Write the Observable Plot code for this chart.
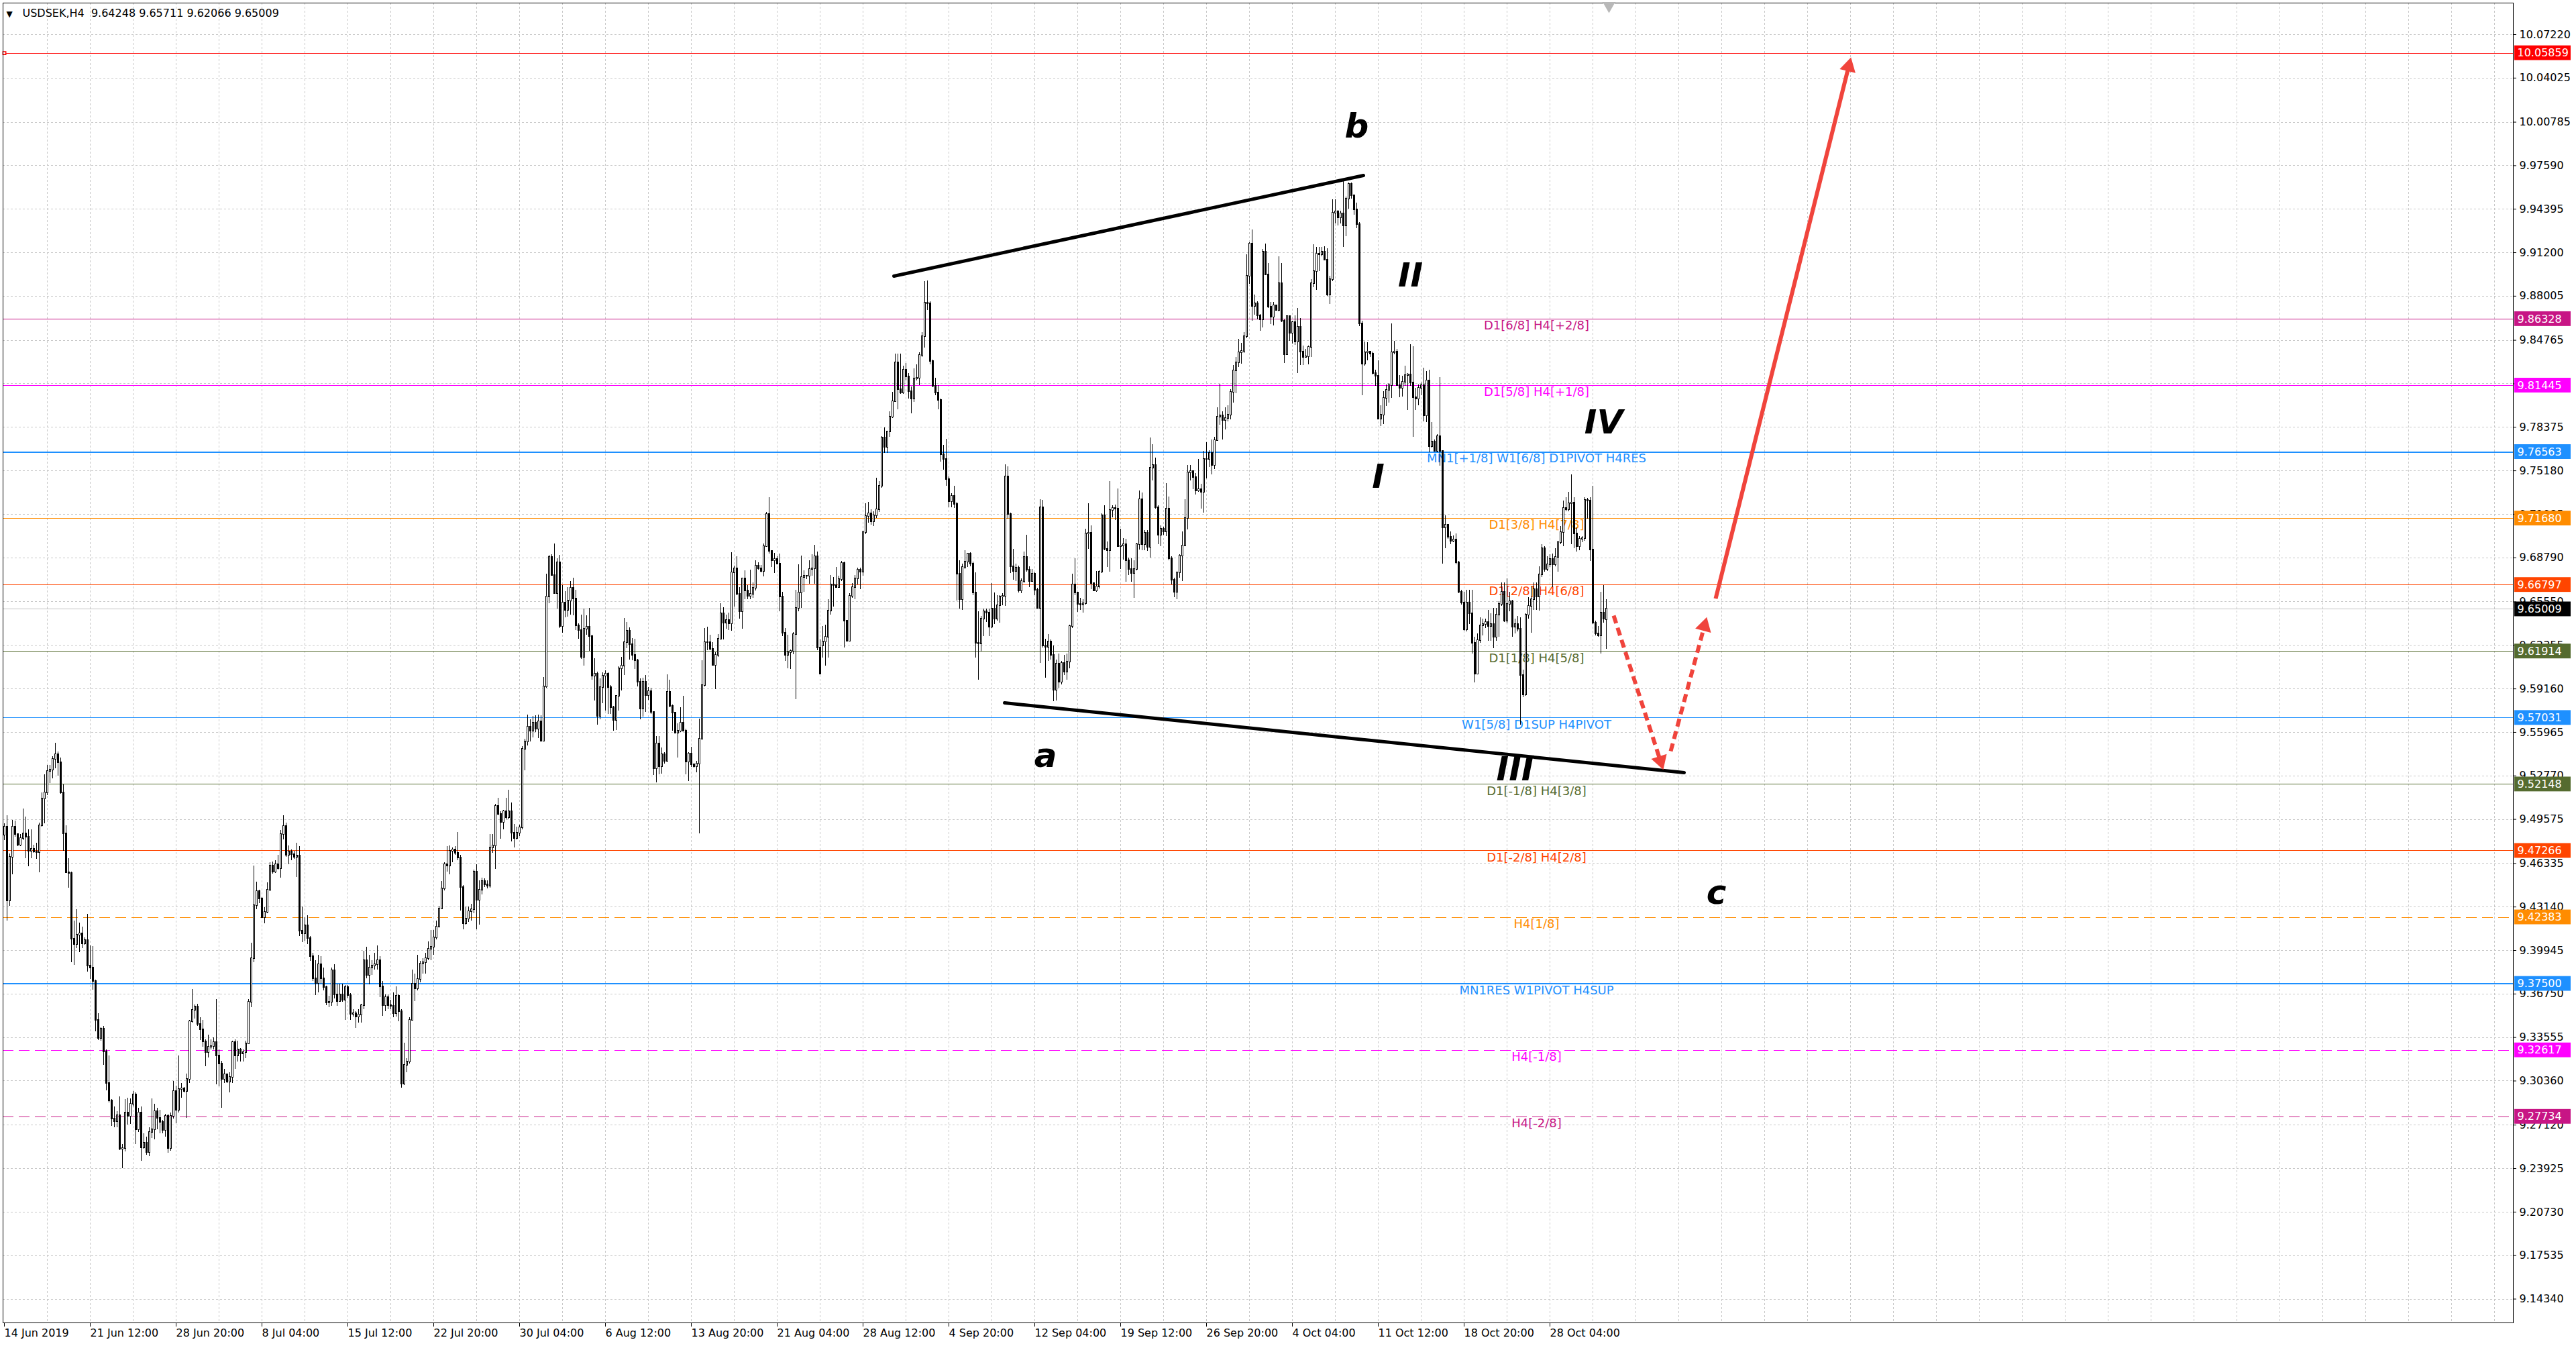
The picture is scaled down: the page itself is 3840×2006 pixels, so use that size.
<!DOCTYPE html>
<html>
<head>
<meta charset="utf-8">
<script src="https://cdn.jsdelivr.net/npm/d3@7"></script>
<script src="https://cdn.jsdelivr.net/npm/@observablehq/plot@0.6"></script>
<style>
html, body { margin: 0; padding: 0; background: #ffffff; overflow: hidden; }
#chart svg { display: block; }
</style>
</head>
<body>
<div id="chart"></div>
<script>
// ---------------- DATA ----------------
const symbolTitle = "USDSEK,H4  9.64248 9.65711 9.62066 9.65009";

// H4 bars, index 0 = 14 Jun 2019
const open = [
9.4843,9.4902,9.4359,9.4678,9.4902,9.4847,9.4766,9.4816,9.4851,9.4825,
9.4726,9.4741,9.4719,9.4715,9.4913,9.5107,9.5155,9.5309,9.5318,9.5397,
9.5434,9.5375,9.5151,9.4851,9.4565,9.4561,9.4077,9.4037,9.4110,9.4117,
9.4044,9.4066,9.3879,9.3868,9.3769,9.3483,9.3351,9.3417,9.3252,9.3021,
9.2889,9.2757,9.2739,9.2783,9.2537,9.2541,9.2801,9.2779,9.2867,9.2933,
9.2680,9.2801,9.2548,9.2581,9.2511,9.2658,9.2680,9.2812,9.2761,9.2735,
9.2673,9.2775,9.2541,9.2775,9.2959,9.2823,9.2973,9.2980,9.2959,9.3047,
9.3472,9.3555,9.3582,9.3450,9.3413,9.3322,9.3245,9.3285,9.3292,9.3320,
9.3223,9.3162,9.3047,9.3083,9.3030,9.3061,9.3318,9.3223,9.3263,9.3237,
9.3245,9.3311,9.3615,9.3934,9.4323,9.4429,9.4374,9.4238,9.4275,9.4440,
9.4616,9.4570,9.4626,9.4598,9.4847,9.4908,9.4695,9.4717,9.4700,9.4681,
9.4690,9.4136,9.4120,9.4175,9.4081,9.3948,9.3788,9.3754,9.3893,9.3788,
9.3721,9.3611,9.3616,9.3849,9.3671,9.3622,9.3671,9.3630,9.3721,9.3666,
9.3528,9.3533,9.3506,9.3519,9.3589,9.3920,9.3810,9.3865,9.3879,9.3893,
9.3920,9.3727,9.3589,9.3649,9.3589,9.3583,9.3533,9.3658,9.3547,9.3013,
9.3151,9.3174,9.3483,9.3749,9.3713,9.3782,9.3898,9.3907,9.3934,9.4003,
9.4017,9.4086,9.4169,9.4302,9.4446,9.4626,9.4617,9.4723,9.4736,9.4709,
9.4673,9.4460,9.4192,9.4225,9.4280,9.4294,9.4570,9.4363,9.4440,9.4501,
9.4479,9.4468,9.4750,9.4764,9.5054,9.4994,9.4938,9.5013,9.4971,9.5013,
9.4855,9.4819,9.4855,9.4894,9.5475,9.5525,9.5635,9.5608,9.5663,9.5622,
9.5677,9.5534,9.5930,9.6594,9.6881,9.6752,9.6617,9.6845,9.6375,9.6546,
9.6494,9.6564,9.6657,9.6576,9.6379,9.6347,9.6147,9.6353,9.6368,9.6300,
9.6009,9.6027,9.5714,9.5925,9.6009,9.6027,9.5925,9.5781,9.5684,9.5860,
9.6066,9.6083,9.6256,9.6340,9.6240,9.6164,9.6124,9.5965,9.5767,9.5965,
9.5869,9.5895,9.5742,9.5332,9.5513,9.5344,9.5432,9.5385,9.5890,9.5789,
9.5737,9.5591,9.5608,9.5666,9.5608,9.5379,9.5437,9.5358,9.5344,9.5367,
9.5548,9.5939,9.6259,9.6256,9.6207,9.6089,9.6164,9.6282,9.6467,9.6400,
9.6418,9.6397,9.6770,9.6798,9.6611,9.6481,9.6727,9.6634,9.6599,9.6611,
9.6657,9.6819,9.6801,9.6780,9.6963,9.7197,9.6928,9.6858,9.6868,9.6833,
9.6590,9.6326,9.6164,9.6182,9.6194,9.6317,9.6506,9.6622,9.6735,9.6745,
9.6743,9.6795,9.6799,9.6890,9.6219,9.6230,9.6263,9.6296,9.6487,9.6681,
9.6677,9.6663,9.6721,9.6839,9.6413,9.6267,9.6597,9.6663,9.6725,9.6791,
9.6773,9.7066,9.7183,9.7205,9.7143,9.7187,9.7231,9.7403,9.7759,9.7693,
9.7803,9.7913,9.8027,9.8313,9.8115,9.8090,9.8258,9.8210,9.8100,9.8045,
9.8195,9.8199,9.8368,9.8503,9.8753,9.8745,9.8320,9.8137,9.8089,9.8034,
9.7638,9.7601,9.7455,9.7293,9.7330,9.7271,9.6758,9.6571,9.6809,9.6846,
9.6905,9.6831,9.6619,9.6252,9.6245,9.6428,9.6483,9.6472,9.6369,9.6505,
9.6428,9.6527,9.6593,9.6597,9.7473,9.7198,9.6813,9.6780,9.6802,9.6637,
9.6703,9.6883,9.6787,9.6703,9.6758,9.6641,9.6509,9.7249,9.6230,9.6223,
9.6263,9.6164,9.5907,9.6098,9.5966,9.6105,9.6039,9.6113,9.6373,9.6681,
9.6619,9.6536,9.6532,9.6541,9.7057,9.7061,9.6690,9.6638,9.6667,9.6774,
9.7188,9.6943,9.6932,9.7226,9.7242,9.7237,9.6961,9.6966,9.6977,9.6857,
9.6796,9.6762,9.6796,9.6977,9.7305,9.6977,9.7061,9.6955,9.7536,9.7559,
9.7249,9.7045,9.7090,9.7068,9.7237,9.6875,9.6717,9.6627,9.6767,9.6894,
9.6966,9.7170,9.7505,9.7514,9.7468,9.7373,9.7380,9.7362,9.7600,9.7604,
9.7649,9.7559,9.7740,9.7912,9.7921,9.7889,9.7905,9.7928,9.8093,9.8251,
9.8312,9.8387,9.8396,9.8505,9.8946,9.9184,9.8727,9.8747,9.8659,9.8629,
9.9127,9.8957,9.8720,9.8645,9.8731,9.8697,9.8894,9.8618,9.8369,9.8652,
9.8528,9.8607,9.8464,9.8573,9.8392,9.8351,9.8358,9.8426,9.8894,9.8980,
9.9111,9.9105,9.9127,9.9066,9.8810,9.8923,9.9410,9.9421,9.9376,9.9405,
9.9315,9.9514,9.9621,9.9541,9.9434,9.9327,9.8597,9.8303,9.8384,9.8392,
9.8378,9.8231,9.8213,9.7900,9.7926,9.8052,9.8111,9.8143,9.8384,9.8392,
9.8143,9.8124,9.8170,9.8218,9.8223,9.8165,9.8058,9.8044,9.8124,9.8143,
9.7924,9.8178,9.7697,9.7732,9.7662,9.7769,9.7662,9.7101,9.7117,9.7029,
9.7002,9.7010,9.6842,9.6628,9.6548,9.6348,9.6548,9.6468,9.6254,9.6027,
9.6273,9.6380,9.6388,9.6406,9.6374,9.6388,9.6294,9.6460,9.6540,9.6628,
9.6414,9.6540,9.6556,9.6369,9.6388,9.6353,9.6014,9.5872,9.6460,9.6521,
9.6574,9.6647,9.6593,9.6754,9.6949,9.6796,9.6829,9.6869,9.6829,9.6882,
9.6989,9.7064,9.7243,9.7235,9.7277,9.7283,9.7056,9.6962,9.7016,9.7021,
9.7304,9.7298,9.6935,9.6401,9.6321,9.6307,9.6476,9.64248
];
const high = [
9.4924,9.4986,9.4704,9.4953,9.4946,9.4851,9.4847,9.5034,9.4975,9.4880,
9.4884,9.4770,9.4781,9.4931,9.5155,9.5287,9.5353,9.5357,9.5419,9.5518,
9.5452,9.5408,9.5210,9.4913,9.4671,9.4572,9.4209,9.4297,9.4198,9.4165,
9.4088,9.4262,9.4029,9.4022,9.3780,9.3531,9.3428,9.3439,9.3263,9.3219,
9.2900,9.2845,9.2812,9.2918,9.2570,9.2900,9.2911,9.2907,9.2959,9.2951,
9.2834,9.2845,9.2647,9.2625,9.2691,9.2907,9.2867,9.2834,9.2823,9.2746,
9.2790,9.2790,9.2801,9.3032,9.2999,9.3219,9.3021,9.2990,9.3087,9.3483,
9.3710,9.3593,9.3600,9.3501,9.3483,9.3340,9.3373,9.3340,9.3355,9.3633,
9.3263,9.3179,9.3120,9.3087,9.3098,9.3329,9.3340,9.3329,9.3274,9.3263,
9.3329,9.3633,9.4051,9.4616,9.4495,9.4440,9.4385,9.4308,9.4491,9.4638,
9.4645,9.4653,9.4695,9.4875,9.4983,9.4930,9.4764,9.4736,9.4722,9.4783,
9.4756,9.4313,9.4238,9.4252,9.4100,9.3976,9.3920,9.3962,9.3948,9.3865,
9.3732,9.3658,9.3865,9.3893,9.3749,9.3749,9.3749,9.3740,9.3740,9.3677,
9.3561,9.3547,9.3561,9.3602,9.3990,9.4017,9.3962,9.3920,9.3976,9.4031,
9.3948,9.3768,9.3671,9.3671,9.3630,9.3685,9.3727,9.3671,9.3561,9.3312,
9.3201,9.3500,9.3851,9.3824,9.3962,9.3915,9.3934,9.3976,9.4059,9.4142,
9.4142,9.4211,9.4322,9.4501,9.4640,9.4756,9.4764,9.4750,9.4756,9.4861,
9.4695,9.4474,9.4313,9.4313,9.4335,9.4584,9.4626,9.4507,9.4529,9.4523,
9.4507,9.4847,9.4847,9.5068,9.5115,9.5013,9.5027,9.5115,9.5171,9.5077,
9.4922,9.4902,9.4916,9.5492,9.5547,9.5724,9.5691,9.5713,9.5718,9.5724,
9.5719,9.6000,9.6757,9.6898,9.6903,9.6981,9.6872,9.6898,9.6678,9.6629,
9.6661,9.6705,9.6731,9.6643,9.6397,9.6458,9.6502,9.6453,9.6506,9.6309,
9.6136,9.6040,9.5992,9.6036,9.6048,9.6036,9.5939,9.5790,9.5869,9.6080,
9.6150,9.6432,9.6405,9.6367,9.6288,9.6282,9.6133,9.5992,9.5995,9.6013,
9.5925,9.5921,9.5745,9.5569,9.5569,9.5481,9.5446,9.6018,9.5983,9.5798,
9.5745,9.5658,9.5781,9.5860,9.5622,9.5446,9.5490,9.5362,9.5385,9.5693,
9.6124,9.6361,9.6370,9.6309,9.6256,9.6185,9.6317,9.6541,9.6511,9.6458,
9.6476,9.6916,9.6819,9.6886,9.6661,9.6731,9.6784,9.6678,9.6787,9.6696,
9.6858,9.6845,9.6823,9.6981,9.7215,9.7321,9.6933,9.6911,9.6889,9.6907,
9.6625,9.6361,9.6309,9.6203,9.6330,9.6643,9.6828,9.6893,9.6784,9.6749,
9.6857,9.6901,9.6971,9.6923,9.6274,9.6373,9.6384,9.6571,9.6751,9.6736,
9.6807,9.6747,9.6853,9.6846,9.6421,9.6615,9.6692,9.6751,9.6802,9.6802,
9.7077,9.7275,9.7286,9.7231,9.7220,9.7462,9.7440,9.7770,9.7836,9.7807,
9.7953,9.8093,9.8375,9.8375,9.8375,9.8287,9.8309,9.8232,9.8133,9.8269,
9.8298,9.8386,9.8533,9.8907,9.8914,9.8760,9.8331,9.8199,9.8144,9.8045,
9.7704,9.7748,9.7473,9.7352,9.7403,9.7286,9.6857,9.6835,9.6934,9.6912,
9.6919,9.6846,9.6769,9.6483,9.6450,9.6505,9.6505,9.6505,9.6692,9.6619,
9.6604,9.6604,9.6615,9.7565,9.7550,9.7209,9.6941,9.6831,9.6817,9.6725,
9.6923,9.7044,9.6813,9.6795,9.6769,9.6655,9.7308,9.7301,9.6281,9.6318,
9.6274,9.6230,9.6127,9.6171,9.6120,9.6164,9.6171,9.6384,9.6758,9.6875,
9.6627,9.6581,9.6570,9.7091,9.7278,9.7113,9.6695,9.6780,9.6785,9.7204,
9.7260,9.6996,9.7441,9.7260,9.7265,9.7385,9.7091,9.7023,9.7016,9.6876,
9.6871,9.6857,9.6984,9.7369,9.7355,9.7079,9.7079,9.7758,9.7713,9.7611,
9.7260,9.7113,9.7102,9.7423,9.7328,9.6887,9.6728,9.6774,9.6903,9.7068,
9.7305,9.7559,9.7559,9.7520,9.7498,9.7600,9.7419,9.7663,9.7724,9.7668,
9.7747,9.7763,9.7980,9.8154,9.7950,9.7980,9.7996,9.8116,9.8290,9.8351,
9.8482,9.8455,9.8532,9.9105,9.9195,9.9286,9.8810,9.8760,9.8668,9.9143,
9.9184,9.9043,9.8754,9.8754,9.8736,9.9093,9.9043,9.8629,9.8659,9.8657,
9.8618,9.8659,9.8713,9.8636,9.8437,9.8410,9.8437,9.8923,9.9179,9.9161,
9.9161,9.9161,9.9166,9.9150,9.8946,9.9512,9.9512,9.9431,9.9428,9.9648,
9.9527,9.9634,9.9634,9.9541,9.9487,9.9340,9.8619,9.8464,9.8458,9.8392,
9.8392,9.8258,9.8325,9.7995,9.8098,9.8151,9.8159,9.8597,9.8472,9.8410,
9.8218,9.8213,9.8285,9.8231,9.8445,9.8432,9.8124,9.8151,9.8165,9.8271,
9.8250,9.8258,9.7871,9.7743,9.7785,9.8205,9.7662,9.7189,9.7122,9.7069,
9.7042,9.7056,9.6855,9.6641,9.6628,9.6641,9.6641,9.6641,9.6294,9.6321,
9.6441,9.6428,9.6428,9.6494,9.6468,9.6508,9.6508,9.6556,9.6695,9.6695,
9.6727,9.6628,9.6567,9.6428,9.6449,9.6441,9.6054,9.6468,9.6588,9.6668,
9.6695,9.6695,9.6815,9.6976,9.6962,9.6887,9.6903,9.6909,9.6949,9.7002,
9.7109,9.7296,9.7323,9.7363,9.7491,9.7323,9.7101,9.7037,9.7037,9.7323,
9.7315,9.7323,9.7403,9.6414,9.6374,9.6628,9.6674,9.65711
];
const low = [
9.4803,9.4209,9.4319,9.4550,9.4825,9.4759,9.4759,9.4803,9.4671,9.4609,
9.4671,9.4711,9.4664,9.4565,9.4902,9.4924,9.5133,9.5221,9.5254,9.5331,
9.5276,9.5144,9.4726,9.4561,9.4455,9.3905,9.3888,9.4011,9.3978,9.4011,
9.4033,9.3835,9.3785,9.3703,9.3399,9.3333,9.3329,9.3153,9.2966,9.2878,
9.2702,9.2695,9.2691,9.2526,9.2394,9.2515,9.2713,9.2717,9.2845,9.2570,
9.2658,9.2449,9.2537,9.2493,9.2482,9.2614,9.2607,9.2680,9.2647,9.2647,
9.2625,9.2504,9.2519,9.2757,9.2724,9.2801,9.2911,9.2951,9.2761,9.3017,
9.3461,9.3494,9.3439,9.3333,9.3285,9.3142,9.3208,9.3263,9.3263,9.3010,
9.2995,9.2834,9.3021,9.3021,9.2951,9.3021,9.3120,9.3175,9.3175,9.3175,
9.3201,9.3303,9.3575,9.3905,9.4297,9.4341,9.4231,9.4191,9.4264,9.4429,
9.4557,9.4562,9.4584,9.4529,9.4806,9.4681,9.4626,9.4653,9.4667,9.4534,
9.4100,9.4053,9.4064,9.4037,9.3915,9.3768,9.3666,9.3685,9.3749,9.3699,
9.3589,9.3575,9.3583,9.3638,9.3583,9.3616,9.3616,9.3483,9.3644,9.3483,
9.3506,9.3423,9.3464,9.3464,9.3561,9.3788,9.3741,9.3810,9.3851,9.3851,
9.3649,9.3511,9.3547,9.3561,9.3561,9.3500,9.3506,9.3472,9.2985,9.3002,
9.3096,9.3160,9.3478,9.3622,9.3699,9.3760,9.3824,9.3824,9.3920,9.3920,
9.3962,9.4073,9.4164,9.4294,9.4432,9.4570,9.4551,9.4640,9.4695,9.4653,
9.4286,9.4147,9.4183,9.4203,9.4211,9.4266,9.4147,9.4183,9.4404,9.4460,
9.4446,9.4451,9.4709,9.4590,9.4985,9.4811,9.4883,9.4958,9.4958,9.4792,
9.4750,9.4806,9.4833,9.4883,9.5317,9.5497,9.5525,9.5558,9.5594,9.5552,
9.5525,9.5525,9.5921,9.6541,9.6749,9.6611,9.6502,9.6361,9.6326,9.6441,
9.6446,9.6458,9.6453,9.6344,9.6282,9.6133,9.6083,9.6309,9.6194,9.5983,
9.5830,9.5649,9.5689,9.5807,9.5754,9.5728,9.5731,9.5608,9.5613,9.5754,
9.5904,9.6013,9.6212,9.6130,9.6124,9.6062,9.5930,9.5689,9.5710,9.5745,
9.5833,9.5731,9.5279,9.5226,9.5288,9.5291,9.5367,9.5379,9.5781,9.5605,
9.5587,9.5411,9.5596,9.5605,9.5288,9.5235,9.5341,9.5337,9.5302,9.4851,
9.5543,9.5930,9.6199,9.6199,9.6083,9.5913,9.6150,9.6277,9.6277,9.6353,
9.6344,9.6340,9.6520,9.6604,9.6428,9.6353,9.6573,9.6573,9.6573,9.6581,
9.6634,9.6787,9.6770,9.6740,9.6960,9.6907,9.6810,9.6763,9.6828,9.6485,
9.6300,9.6119,9.6066,9.6062,9.6168,9.5837,9.6485,9.6506,9.6625,9.6722,
9.6685,9.6747,9.6685,9.6197,9.6021,9.6142,9.6083,9.6142,9.6461,9.6516,
9.6655,9.6655,9.6703,9.6215,9.6263,9.6263,9.6582,9.6571,9.6681,9.6648,
9.6743,9.7051,9.7132,9.7121,9.7110,9.7170,9.7213,9.7389,9.7649,9.7645,
9.7763,9.7902,9.8020,9.7968,9.8078,9.8080,9.8177,9.8045,9.7935,9.8019,
9.8177,9.8144,9.8353,9.8419,9.8694,9.8298,9.8129,9.8071,9.7968,9.7583,
9.7521,9.7407,9.7249,9.7249,9.7242,9.6560,9.6501,9.6494,9.6795,9.6809,
9.6813,9.6604,9.6142,9.5981,9.6186,9.6303,9.6406,9.6303,9.6362,9.6391,
9.6413,9.6399,9.6527,9.6523,9.7165,9.6765,9.6714,9.6703,9.6619,9.6615,
9.6692,9.6773,9.6659,9.6699,9.6604,9.6505,9.6105,9.6219,9.5995,9.6120,
9.6131,9.5823,9.5827,9.5922,9.5944,9.6017,9.5981,9.6065,9.6362,9.6604,
9.6479,9.6495,9.6473,9.6532,9.6943,9.6645,9.6631,9.6627,9.6649,9.6762,
9.6932,9.6807,9.6774,9.7174,9.7152,9.6955,9.6796,9.6864,9.6699,9.6751,
9.6699,9.6581,9.6785,9.6939,9.6932,9.6932,9.6925,9.6880,9.7446,9.7238,
9.6977,9.6961,9.7045,9.7034,9.6857,9.6683,9.6586,9.6570,9.6728,9.6706,
9.6961,9.7084,9.7446,9.7378,9.7339,9.7362,9.7238,9.7210,9.7459,9.7543,
9.7491,9.7527,9.7735,9.7853,9.7747,9.7821,9.7876,9.7894,9.8018,9.8086,
9.8279,9.8301,9.8380,9.8487,9.8890,9.8618,9.8663,9.8629,9.8546,9.8568,
9.8953,9.8713,9.8591,9.8584,9.8690,9.8686,9.8607,9.8306,9.8364,9.8471,
9.8448,9.8441,9.8233,9.8290,9.8290,9.8346,9.8297,9.8351,9.8862,9.8844,
9.8980,9.9093,9.9059,9.8799,9.8742,9.8908,9.9331,9.9315,9.9331,9.9161,
9.9239,9.9442,9.9514,9.9394,9.9300,9.8579,9.8071,9.8285,9.8325,9.8352,
9.8223,9.8138,9.7897,9.7844,9.7857,9.7991,9.8018,9.8052,9.8373,9.8138,
9.8058,9.8063,9.8138,9.7964,9.8138,9.7764,9.7964,9.7996,9.8071,9.7876,
9.7871,9.7651,9.7684,9.7657,9.7651,9.7555,9.6834,9.6949,9.7016,9.6975,
9.6989,9.6829,9.6615,9.6535,9.6342,9.6334,9.6388,9.6174,9.5960,9.6022,
9.6254,9.6307,9.6361,9.6267,9.6267,9.6214,9.6267,9.6294,9.6521,9.6406,
9.6396,9.6481,9.6294,9.6321,9.6334,9.5650,9.5853,9.5860,9.6428,9.6326,
9.6494,9.6494,9.6487,9.6735,9.6775,9.6780,9.6807,9.6663,9.6815,9.6775,
9.6975,9.6962,9.7216,9.7216,9.6975,9.6949,9.6922,9.6930,9.6989,9.7002,
9.7163,9.6855,9.6388,9.6307,9.6294,9.6174,9.6401,9.62066
];
const close = [
9.4902,9.4359,9.4678,9.4902,9.4847,9.4766,9.4816,9.4851,9.4825,9.4726,
9.4741,9.4719,9.4715,9.4913,9.5107,9.5155,9.5309,9.5318,9.5397,9.5434,
9.5375,9.5151,9.4851,9.4565,9.4561,9.4077,9.4037,9.4110,9.4117,9.4044,
9.4066,9.3879,9.3868,9.3769,9.3483,9.3351,9.3417,9.3252,9.3021,9.2889,
9.2757,9.2739,9.2783,9.2537,9.2541,9.2801,9.2779,9.2867,9.2933,9.2680,
9.2801,9.2548,9.2581,9.2511,9.2658,9.2680,9.2812,9.2761,9.2735,9.2673,
9.2775,9.2541,9.2775,9.2959,9.2823,9.2973,9.2980,9.2959,9.3047,9.3472,
9.3555,9.3582,9.3450,9.3413,9.3322,9.3245,9.3285,9.3292,9.3320,9.3223,
9.3162,9.3047,9.3083,9.3030,9.3061,9.3318,9.3223,9.3263,9.3237,9.3245,
9.3311,9.3615,9.3934,9.4323,9.4429,9.4374,9.4238,9.4275,9.4440,9.4616,
9.4570,9.4626,9.4598,9.4847,9.4908,9.4695,9.4717,9.4700,9.4681,9.4690,
9.4136,9.4120,9.4175,9.4081,9.3948,9.3788,9.3754,9.3893,9.3788,9.3721,
9.3611,9.3616,9.3849,9.3671,9.3622,9.3671,9.3630,9.3721,9.3666,9.3528,
9.3533,9.3506,9.3519,9.3589,9.3920,9.3810,9.3865,9.3879,9.3893,9.3920,
9.3727,9.3589,9.3649,9.3589,9.3583,9.3533,9.3658,9.3547,9.3013,9.3151,
9.3174,9.3483,9.3749,9.3713,9.3782,9.3898,9.3907,9.3934,9.4003,9.4017,
9.4086,9.4169,9.4302,9.4446,9.4626,9.4617,9.4723,9.4736,9.4709,9.4673,
9.4460,9.4192,9.4225,9.4280,9.4294,9.4570,9.4363,9.4440,9.4501,9.4479,
9.4468,9.4750,9.4764,9.5054,9.4994,9.4938,9.5013,9.4971,9.5013,9.4855,
9.4819,9.4855,9.4894,9.5475,9.5525,9.5635,9.5608,9.5663,9.5622,9.5677,
9.5534,9.5930,9.6594,9.6881,9.6752,9.6617,9.6845,9.6375,9.6546,9.6494,
9.6564,9.6657,9.6576,9.6379,9.6347,9.6147,9.6353,9.6368,9.6300,9.6009,
9.6027,9.5714,9.5925,9.6009,9.6027,9.5925,9.5781,9.5684,9.5860,9.6066,
9.6083,9.6256,9.6340,9.6240,9.6164,9.6124,9.5965,9.5767,9.5965,9.5869,
9.5895,9.5742,9.5332,9.5513,9.5344,9.5432,9.5385,9.5890,9.5789,9.5737,
9.5591,9.5608,9.5666,9.5608,9.5379,9.5437,9.5358,9.5344,9.5367,9.5548,
9.5939,9.6259,9.6256,9.6207,9.6089,9.6164,9.6282,9.6467,9.6400,9.6418,
9.6397,9.6770,9.6798,9.6611,9.6481,9.6727,9.6634,9.6599,9.6611,9.6657,
9.6819,9.6801,9.6780,9.6963,9.7197,9.6928,9.6858,9.6868,9.6833,9.6590,
9.6326,9.6164,9.6182,9.6194,9.6317,9.6506,9.6622,9.6735,9.6745,9.6743,
9.6795,9.6799,9.6890,9.6219,9.6025,9.6263,9.6296,9.6487,9.6681,9.6677,
9.6663,9.6721,9.6839,9.6413,9.6267,9.6597,9.6663,9.6725,9.6791,9.6773,
9.7066,9.7183,9.7205,9.7143,9.7187,9.7231,9.7403,9.7759,9.7693,9.7803,
9.7913,9.8027,9.8313,9.8115,9.8090,9.8258,9.8210,9.8100,9.8045,9.8195,
9.8199,9.8368,9.8503,9.8753,9.8745,9.8320,9.8137,9.8089,9.8034,9.7638,
9.7601,9.7455,9.7293,9.7330,9.7271,9.6758,9.6571,9.6809,9.6846,9.6905,
9.6831,9.6619,9.6252,9.6245,9.6428,9.6483,9.6472,9.6369,9.6505,9.6428,
9.6527,9.6593,9.6597,9.7473,9.7198,9.6813,9.6780,9.6802,9.6637,9.6703,
9.6883,9.6787,9.6703,9.6758,9.6641,9.6509,9.7249,9.6230,9.6223,9.6263,
9.6164,9.5907,9.6098,9.5966,9.6105,9.6039,9.6113,9.6373,9.6681,9.6619,
9.6536,9.6532,9.6541,9.7057,9.7061,9.6690,9.6638,9.6667,9.6774,9.7188,
9.6943,9.6932,9.7226,9.7242,9.7237,9.6961,9.6966,9.6977,9.6857,9.6796,
9.6762,9.6796,9.6977,9.7305,9.6977,9.7061,9.6955,9.7536,9.7559,9.7249,
9.7045,9.7090,9.7068,9.7237,9.6875,9.6717,9.6627,9.6767,9.6894,9.6966,
9.7170,9.7505,9.7514,9.7468,9.7373,9.7380,9.7362,9.7600,9.7604,9.7649,
9.7559,9.7740,9.7912,9.7921,9.7889,9.7905,9.7928,9.8093,9.8251,9.8312,
9.8387,9.8396,9.8505,9.8946,9.9184,9.8727,9.8747,9.8659,9.8629,9.9127,
9.8957,9.8720,9.8645,9.8731,9.8697,9.8894,9.8618,9.8369,9.8652,9.8528,
9.8607,9.8464,9.8573,9.8392,9.8351,9.8358,9.8426,9.8894,9.8980,9.9111,
9.9105,9.9127,9.9066,9.8810,9.8923,9.9410,9.9421,9.9376,9.9405,9.9315,
9.9514,9.9621,9.9541,9.9434,9.9327,9.8597,9.8303,9.8384,9.8392,9.8378,
9.8231,9.8213,9.7900,9.7926,9.8052,9.8111,9.8143,9.8384,9.8392,9.8143,
9.8124,9.8170,9.8218,9.8223,9.8165,9.8058,9.8044,9.8124,9.8143,9.7924,
9.8178,9.7697,9.7732,9.7662,9.7769,9.7662,9.7101,9.7117,9.7029,9.7002,
9.7010,9.6842,9.6628,9.6548,9.6348,9.6548,9.6468,9.6254,9.6027,9.6273,
9.6380,9.6388,9.6406,9.6374,9.6388,9.6294,9.6460,9.6540,9.6628,9.6414,
9.6540,9.6556,9.6369,9.6388,9.6353,9.6014,9.5872,9.6460,9.6521,9.6574,
9.6647,9.6593,9.6754,9.6949,9.6796,9.6829,9.6869,9.6829,9.6882,9.6989,
9.7064,9.7243,9.7235,9.7277,9.7283,9.7056,9.6962,9.7016,9.7021,9.7304,
9.7298,9.6935,9.6401,9.6321,9.6307,9.6476,9.6428,9.65009
];

// right price scale tick values
const priceTicks = [10.07220,10.04025,10.00785,9.97590,9.94395,9.91200,9.88005,9.84765,9.81570,9.78375,
  9.75180,9.71985,9.68790,9.65550,9.62355,9.59160,9.55965,9.52770,9.49575,9.46335,9.43140,9.39945,
  9.36750,9.33555,9.30360,9.27120,9.23925,9.20730,9.17535,9.14340];

// time axis labels and the bar index they sit on
const dateLabels = ["14 Jun 2019","21 Jun 12:00","28 Jun 20:00","8 Jul 04:00","15 Jul 12:00","22 Jul 20:00",
  "30 Jul 04:00","6 Aug 12:00","13 Aug 20:00","21 Aug 04:00","28 Aug 12:00","4 Sep 20:00","12 Sep 04:00",
  "19 Sep 12:00","26 Sep 20:00","4 Oct 04:00","11 Oct 12:00","18 Oct 20:00","28 Oct 04:00"];
const dateLabelBars = [0,32,64,96,128,160,192,224,256,288,320,352,384,416,448,480,512,544,576];

// Murrey-math / pivot levels
const levelPrices = [10.05859, 9.86328, 9.81445, 9.76563, 9.71680, 9.66797, 9.61914, 9.57031,
  9.52148, 9.47266, 9.42383, 9.37500, 9.32617, 9.27734];
const levelNames = ["", "D1[6/8] H4[+2/8]", "D1[5/8] H4[+1/8]", "MN1[+1/8] W1[6/8] D1PIVOT H4RES",
  "D1[3/8] H4[7/8]", "D1[2/8] H4[6/8]", "D1[1/8] H4[5/8]", "W1[5/8] D1SUP H4PIVOT",
  "D1[-1/8] H4[3/8]", "D1[-2/8] H4[2/8]", "H4[1/8]", "MN1RES W1PIVOT H4SUP", "H4[-1/8]", "H4[-2/8]"];

// hand-drawn wave annotation (bar index, price)
const waveText = ["b", "a", "c", "II", "I", "IV", "III"];
const waveBar = [504, 388, 638, 524, 512, 596, 563];
const wavePrice = [10.0042, 9.5419, 9.4418, 9.8948, 9.7474, 9.7873, 9.5325];

// trend lines (bar index, price)
const upperLineBar = [331.5, 506.5];
const upperLinePrice = [9.8948, 9.9687];
const lowerLineBar = [372.75, 626];
const lowerLinePrice = [9.5813, 9.5301];

// projected path arrows (bar index, price)
const bigArrowBar = [637.75, 688];
const bigArrowPrice = [9.6579, 10.0540];
const dashArrowBar1 = [599.75, 618];
const dashArrowPrice1 = [9.6454, 9.5335];
const dashArrowBar2 = [621, 634.25];
const dashArrowPrice2 = [9.5458, 9.6429];

// ---------------- CHART ----------------
const colorOf = {
  "10.05859": "#ff0000", "9.86328": "#c71585", "9.81445": "#ff00ff", "9.76563": "#1e90ff",
  "9.71680": "#ff8c00", "9.66797": "#ff4500", "9.61914": "#556b2f", "9.57031": "#1e90ff",
  "9.52148": "#556b2f", "9.47266": "#ff4500", "9.42383": "#ff8c00", "9.37500": "#1e90ff",
  "9.32617": "#ff00ff", "9.27734": "#c71585"
};
const dashedLevels = new Set(["9.42383", "9.32617", "9.27734"]);
const thickLevels = new Set(["9.76563", "9.37500"]);

const W = 3840, H = 2006;
const ML = 4, MR = 94, MT = 4, MB = 35;
const XMAX = 935;
const Y_DOMAIN = [9.12592, 10.09536];
const kx = (W - ML - MR) / (XMAX + 0.5);                 // px per bar
const ky = (H - MT - MB) / (Y_DOMAIN[1] - Y_DOMAIN[0]);  // px per price unit

const bars = close.map((c, i) => ({i, o: open[i], h: high[i], l: low[i], c}));
const levels = levelPrices.map((p, k) => ({price: p, name: levelNames[k], key: p.toFixed(5), color: colorOf[p.toFixed(5)]}));
const solidThin = levels.filter(d => !dashedLevels.has(d.key) && !thickLevels.has(d.key));
const solidThick = levels.filter(d => thickLevels.has(d.key));
const dashed = levels.filter(d => dashedLevels.has(d.key));
const lastPrice = close[close.length - 1];
const waves = waveText.map((t, k) => ({t, x: waveBar[k], y: wavePrice[k]}));
const redArrow = "#f0443c";

// arrow = shaft (tail -> just behind tip) + filled triangle head
function makeArrow(bx, py, dashedShaft) {
  const dxp = (bx[1] - bx[0]) * kx, dyp = -(py[1] - py[0]) * ky;
  const len = Math.hypot(dxp, dyp), ux = dxp / len, uy = dyp / len;
  const back = 11;
  const hx = bx[1] - ux * back / kx, hy = py[1] + uy * back / ky;
  const angle = Math.atan2(ux, -uy) * 180 / Math.PI;
  return {shaft: {x1: bx[0], y1: py[0], x2: hx, y2: hy, dashedShaft}, head: {x: hx, y: hy, angle}};
}
const arrows = [
  makeArrow(bigArrowBar, bigArrowPrice, false),
  makeArrow(dashArrowBar1, dashArrowPrice1, true),
  makeArrow(dashArrowBar2, dashArrowPrice2, true)
];
const trendLines = [
  {x1: upperLineBar[0], y1: upperLinePrice[0], x2: upperLineBar[1], y2: upperLinePrice[1]},
  {x1: lowerLineBar[0], y1: lowerLinePrice[0], x2: lowerLineBar[1], y2: lowerLinePrice[1]}
];

const LABEL_BAR = 571;
const BOX = 0.0054;

const chart = Plot.plot({
  width: W,
  height: H,
  marginLeft: ML,
  marginRight: MR,
  marginTop: MT,
  marginBottom: MB,
  x: {domain: [-0.5, XMAX]},
  y: {domain: Y_DOMAIN},
  color: {type: "identity"},
  style: {fontFamily: "DejaVu Sans", fontSize: "16px", background: "#ffffff", color: "#000"},
  marks: [
    // grid
    Plot.ruleY(priceTicks, {stroke: "#c8c8c8", strokeDasharray: "3,3", shapeRendering: "crispEdges"}),
    Plot.ruleX(d3.range(16, XMAX, 16), {stroke: "#c8c8c8", strokeDasharray: "3,3", shapeRendering: "crispEdges"}),
    // level lines
    Plot.ruleY(solidThin, {y: "price", stroke: "color", strokeWidth: 1, shapeRendering: "crispEdges"}),
    Plot.ruleY(solidThick, {y: "price", stroke: "color", strokeWidth: 2, shapeRendering: "crispEdges"}),
    Plot.ruleY(dashed, {y: "price", stroke: "color", strokeWidth: 1, strokeDasharray: "16,8", shapeRendering: "crispEdges"}),
    Plot.ruleY([lastPrice], {stroke: "#c0c0c0", strokeWidth: 1, shapeRendering: "crispEdges"}),
    Plot.dot([levels[0]], {x: 0, y: "price", symbol: "square", r: 2.5, stroke: "color", fill: "white"}),
    // level captions
    Plot.text(levels.filter(d => d.name), {
      x: () => LABEL_BAR, y: "price", text: "name", fill: "color",
      textAnchor: "middle", lineAnchor: "top", dy: 3, fontSize: 18
    }),
    // candles
    Plot.ruleX(bars, {x: "i", y1: "l", y2: "h", stroke: "#000", strokeWidth: 1, shapeRendering: "crispEdges"}),
    Plot.rect(bars, {
      x1: d => d.i - 0.25, x2: d => d.i + 0.25, y1: "o", y2: "c",
      fill: d => (d.c >= d.o ? "#ffffff" : "#000000"), stroke: "#000000", strokeWidth: 1,
      insetTop: -0.5, insetBottom: -0.5, shapeRendering: "crispEdges"
    }),
    // trend lines
    Plot.link(trendLines, {x1: "x1", y1: "y1", x2: "x2", y2: "y2", stroke: "#000", strokeWidth: 5,
      strokeLinecap: "round", ariaLabel: "shadowed"}),
    // arrows
    Plot.link(arrows.map(a => a.shaft).filter(s => !s.dashedShaft), {x1: "x1", y1: "y1", x2: "x2", y2: "y2",
      stroke: redArrow, strokeWidth: 6, ariaLabel: "shadowed"}),
    Plot.link(arrows.map(a => a.shaft).filter(s => s.dashedShaft), {x1: "x1", y1: "y1", x2: "x2", y2: "y2",
      stroke: redArrow, strokeWidth: 6, strokeDasharray: "12,7", ariaLabel: "shadowed"}),
    Plot.dot(arrows.map(a => a.head), {x: "x", y: "y", rotate: "angle", symbol: "triangle", r: 9,
      fill: redArrow, stroke: "none", ariaLabel: "shadowed"}),
    // wave letters
    Plot.text(waves, {x: "x", y: "y", text: "t", fill: "#000", fontSize: 50, fontStyle: "italic", fontWeight: "bold",
      fontFamily: "DejaVu Sans", textAnchor: "middle", lineAnchor: "middle"}),
    // frame + axes
    Plot.frame({stroke: "#000", shapeRendering: "crispEdges"}),
    Plot.axisY({anchor: "right", ticks: priceTicks, tickFormat: d => d.toFixed(5), tickSize: 4, tickPadding: 5,
      fontSize: 16, label: null}),
    Plot.axisX({anchor: "bottom", ticks: dateLabelBars, tickFormat: d => dateLabels[dateLabelBars.indexOf(d)],
      tickSize: 6, tickPadding: 3, fontSize: 16, label: null, textAnchor: "start"}),
    // coloured price labels
    Plot.rect(levels, {x1: XMAX + 0.5, x2: XMAX + 21.5, y1: d => d.price - BOX, y2: d => d.price + BOX, fill: "color"}),
    Plot.text(levels, {frameAnchor: "right", y: "price", text: d => d.price.toFixed(5), fill: "#ffffff",
      textAnchor: "start", dx: 6, fontSize: 16}),
    Plot.rect([lastPrice], {x1: XMAX + 0.5, x2: XMAX + 21.5, y1: d => d - BOX, y2: d => d + BOX, fill: "#000000"}),
    Plot.text([lastPrice], {frameAnchor: "right", y: d => d, text: d => d.toFixed(5), fill: "#ffffff",
      textAnchor: "start", dx: 6, fontSize: 16}),
    // shift marker
    Plot.dot([0], {x: () => close.length, frameAnchor: "top", symbol: "triangle", rotate: 180, r: 7, fill: "#b8b8b8", dy: 4}),
    // title
    Plot.text(["▼"], {frameAnchor: "top-left", dx: 5, dy: 12, textAnchor: "start", lineAnchor: "top", fontSize: 12, fill: "#000"}),
    Plot.text([symbolTitle], {frameAnchor: "top-left", dx: 29, dy: 9, textAnchor: "start", lineAnchor: "top", fontSize: 16, fill: "#000"})
  ]
});

d3.select(chart).selectAll('g[aria-label="shadowed"]').style("filter", "drop-shadow(3px 4px 2px rgba(0,0,0,0.35))");
document.getElementById("chart").appendChild(chart);
</script>
</body>
</html>
